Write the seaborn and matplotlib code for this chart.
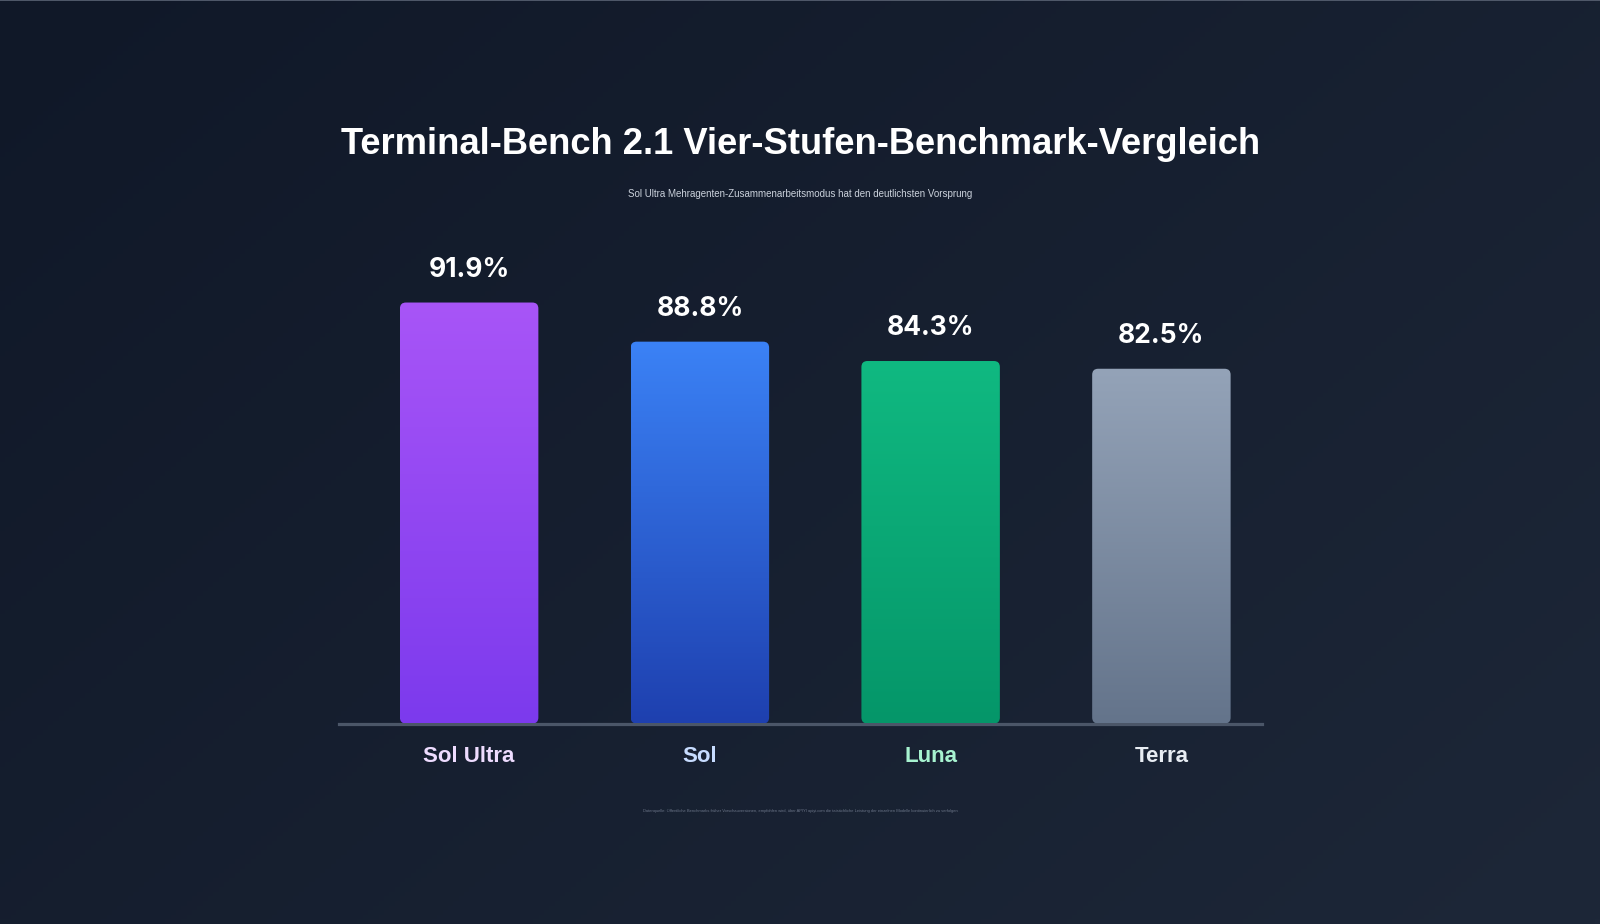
import numpy as np
import pandas as pd
import matplotlib
matplotlib.use("Agg")
import matplotlib.pyplot as plt
import seaborn as sns
from matplotlib.patches import FancyBboxPatch
from matplotlib.lines import Line2D
from matplotlib import font_manager
from matplotlib.colors import to_rgb

# ---- data ----
models = ["Sol Ultra", "Sol", "Luna", "Terra"]
bar_heights = [97.9, 88.8, 84.3, 82.5]          # bar heights as drawn in the reference
score_labels = ["91.9%", "88.8%", "84.3%", "82.5%"]
top_colors = ["#a855f7", "#3b82f6", "#10b981", "#94a3b8"]
bottom_colors = ["#7c3aed", "#1e40af", "#059669", "#64748b"]
tick_colors = ["#eedcff", "#c7dcff", "#a7f3d0", "#e8edf3"]

title = "Terminal-Bench 2.1 Vier-Stufen-Benchmark-Vergleich"
subtitle = "Sol Ultra Mehragenten-Zusammenarbeitsmodus hat den deutlichsten Vorsprung"
footer = ("Datenquelle: Öffentliche Benchmarks früher Vorschauversionen, empfohlen wird, "
          "über APIYI apiyi.com die tatsächliche Leistung der einzelnen Modelle "
          "kontinuierlich zu verfolgen")

df = pd.DataFrame({"model": models, "height": bar_heights})

sns.set_theme(style="white")
names = {f.name for f in font_manager.fontManager.ttflist}
narrow = "Liberation Sans Narrow" if "Liberation Sans Narrow" in names else "Liberation Sans"
plt.rcParams["font.family"] = [narrow, "DejaVu Sans"]

W, H = 1600, 924
fig = plt.figure(figsize=(W / 100, H / 100), dpi=100)

# background gradient
bg = fig.add_axes([0, 0, 1, 1], zorder=-10)
yy, xx = np.mgrid[0:1:200j, 0:1:300j]
t = (xx * 0.6 + yy * 0.4)
c0 = np.array(to_rgb("#101828"))
c1 = np.array(to_rgb("#1d2738"))
img = c0[None, None, :] * (1 - t[..., None]) + c1[None, None, :] * t[..., None]
bg.imshow(img, aspect="auto", extent=[0, 1, 0, 1], origin="upper")
bg.set_axis_off()
fig.add_artist(Line2D([0, 1], [0.9995, 0.9995], transform=fig.transFigure,
                      color="#5b6475", lw=1.2))

# main axes
left, right = 339 / W, 1262 / W
bottom = (H - 723.5) / H
height = 430 / H
ax = fig.add_axes([left, bottom, right - left, height])
ax.set_facecolor("none")

sns.barplot(data=df, x="model", y="height", hue="model", palette=top_colors,
            width=0.6, legend=False, ax=ax, zorder=2)
XLIM = (-0.564, 3.436)
ax.set_xlim(*XLIM)
ax.set_ylim(0, 100)

# aspect factor for rounded corners
xu_per_px = 4.0 / (right - left) / W
yu_per_px = 100.0 / height / H
aspect = yu_per_px / xu_per_px

for i, p in enumerate(ax.patches):
    x0, y0, w, h = p.get_x(), p.get_y(), p.get_width(), p.get_height()
    p.set_alpha(0)
    clip = FancyBboxPatch((x0, y0), w, h,
                          boxstyle=f"round,pad=0,rounding_size={6 * xu_per_px}",
                          mutation_aspect=aspect, facecolor="none", edgecolor="none",
                          transform=ax.transData)
    ax.add_patch(clip)
    ct, cb = np.array(to_rgb(top_colors[i])), np.array(to_rgb(bottom_colors[i]))
    s = np.linspace(0, 1, 256)[:, None, None]
    grad = ct[None, None, :] * (1 - s) + cb[None, None, :] * s
    im = ax.imshow(grad, extent=[x0, x0 + w, y0, y0 + h], aspect="auto",
                   origin="upper", zorder=2, interpolation="bilinear")
    im.set_clip_path(clip)
    ax.annotate(score_labels[i], xy=(x0 + w / 2, y0 + h), xytext=(0, 18.5),
                textcoords="offset points", ha="center", va="baseline",
                color="white", fontsize=19, fontweight="bold",
                family=["Inter", "DejaVu Sans"], annotation_clip=False)

ax.set_xlim(*XLIM)
ax.set_ylim(0, 100)
ax.set_xlabel("")
ax.set_ylabel("")
ax.set_yticks([])
ax.tick_params(axis="x", length=0, pad=16.5)
ax.set_xticks(range(len(models)))
ax.set_xticklabels(models, fontsize=16, fontweight="bold")
for lab, c in zip(ax.get_xticklabels(), tick_colors):
    lab.set_color(c)
for sp in ["top", "right", "left"]:
    ax.spines[sp].set_visible(False)
ax.spines["bottom"].set_color("#4b5668")
ax.spines["bottom"].set_linewidth(2.3)
ax.spines["bottom"].set_zorder(1)
ax.grid(False)

t_title = fig.text(800.5 / W, 1 - 144 / H, title, ha="center", va="center",
                   color="white", fontsize=30, fontweight="bold")
t_sub = fig.text(800 / W, 1 - 194 / H, subtitle, ha="center", va="center",
                 color="#cbd2dc", fontsize=11)
t_foot = fig.text(800 / W, 1 - 811 / H, footer, ha="center", va="center",
                  color="#6b7588", fontsize=6)

fig.canvas.draw()
r = fig.canvas.get_renderer()
for txt, target in [(t_title, 922), (t_sub, 345), (t_foot, 325)]:
    bw = txt.get_window_extent(r).width
    txt.set_fontsize(txt.get_fontsize() * target / bw)

fig.savefig("out.png", dpi=100)
